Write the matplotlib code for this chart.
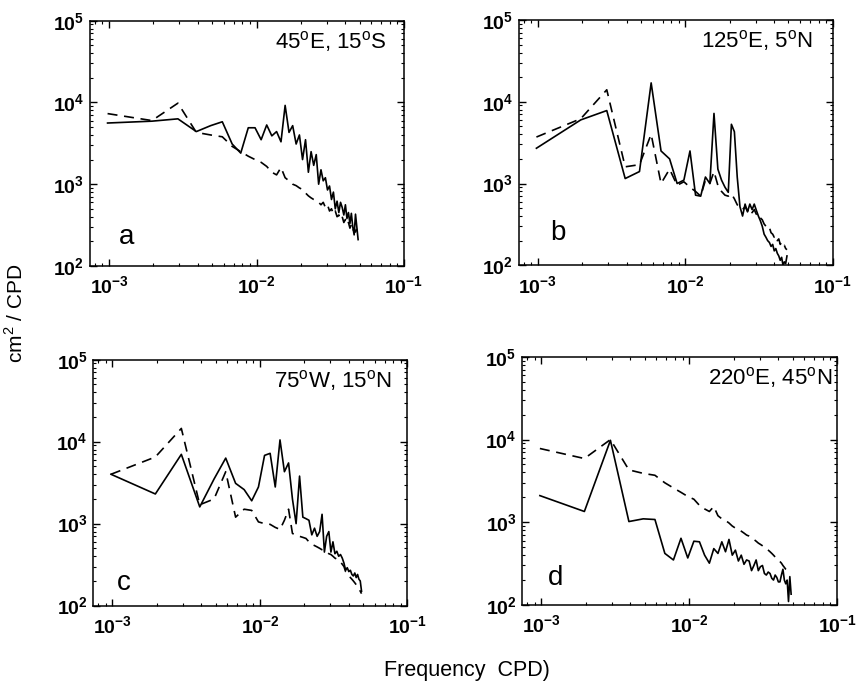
import numpy as np
import matplotlib
matplotlib.use('Agg')
import matplotlib.pyplot as plt
from matplotlib.ticker import FuncFormatter, LogLocator, NullFormatter

plt.rcParams['font.family'] = ['Liberation Sans', 'DejaVu Sans']
plt.rcParams['mathtext.fontset'] = 'custom'
plt.rcParams['mathtext.rm'] = 'Liberation Sans'
plt.rcParams['mathtext.bf'] = 'Liberation Sans:bold'

# frequency grid (cycles per day), harmonics of 1/1024 days
freq = [0.000977, 0.001953, 0.002930, 0.003906, 0.004883, 0.005859, 0.006836,
        0.007813, 0.008789, 0.009766, 0.010742, 0.011719, 0.012695, 0.013672,
        0.014648, 0.015625, 0.016602, 0.017578, 0.018555, 0.019531, 0.020508,
        0.021484, 0.022461, 0.023438, 0.024414, 0.025391, 0.026367, 0.027344,
        0.028320, 0.029297, 0.030273, 0.031250, 0.032227, 0.033203, 0.034180,
        0.035156, 0.036133, 0.037109, 0.038086, 0.039063, 0.040039, 0.041016,
        0.041992, 0.042969, 0.043945, 0.044922, 0.045898, 0.046875, 0.047852,
        0.048828]

# panel a : 45E, 15S
a_solid = [5600, 5900, 6300, 4400, 5200, 5800, 3100, 2400, 4900, 4900,
           3500, 5300, 3900, 4400, 3300, 9200, 4300, 5200, 3100, 4000,
           2000, 3500, 1400, 2500, 1700, 2300, 1000, 1500, 1100, 1200,
           850, 950, 650, 800, 500, 620, 450, 600, 520, 420,
           560, 380, 450, 330, 440, 300, 240, 430, 300, 210]
a_dash = [7300, 6000, 9800, 4300, 4000, 3800, 2900, 2500, 2200, 2000,
          1850, 1650, 1400, 1300, 1600, 1200, 1100, 1000, 960, 900,
          860, 780, 720, 680, 650, 630, 600, 560, 600, 520,
          560, 470, 500, 430, 470, 400, 420, 370, 400, 340,
          370, 320, 340, 290, 320, 270, 290, 260, 280, 240]

# panel b : 125E, 5N
b_solid = [2700, 6000, 7800, 1150, 1400, 17000, 2500, 2000, 1000, 1100,
           2500, 720, 700, 1200, 1000, 7200, 1500, 1100, 900, 780,
           5300, 4300, 1200, 520, 400, 560, 450, 560, 480, 560,
           470, 400, 350, 300, 240, 220, 200, 190, 170, 180,
           150, 160, 140, 130, 115, 125, 100, 110, 105, 130]
b_dash = [3700, 6200, 14000, 1600, 1700, 4000, 1000, 1500, 950, 1050,
          900, 800, 700, 1100, 1000, 1400, 950, 800, 720, 700,
          750, 650, 550, 500, 480, 520, 460, 500, 440, 480,
          420, 430, 380, 360, 320, 300, 280, 290, 250, 240,
          220, 230, 200, 210, 180, 190, 170, 175, 160, 155]

# panel c : 75W, 15N
c_solid = [4000, 2300, 7000, 1600, 3500, 6300, 3100, 2600, 1900, 2800,
           6800, 7200, 2800, 10500, 4300, 5500, 2000, 1000, 3800, 1200,
           1150, 1100, 730, 880, 700, 800, 1300, 450, 700, 800,
           450, 600, 430, 460, 400, 420, 380, 330, 270, 290,
           260, 270, 240, 230, 250, 220, 240, 210, 200, 150]
c_dash = [4000, 6500, 14500, 1700, 2000, 4300, 1200, 1500, 1450, 1050,
          1000, 980, 900, 850, 1100, 1500, 760, 720, 700, 680,
          660, 600, 560, 540, 520, 500, 480, 470, 450, 430,
          420, 400, 380, 370, 360, 340, 320, 300, 260, 250,
          240, 220, 210, 200, 190, 180, 170, 160, 150, 140]

# panel d : 220E, 45N
d_solid = [2100, 1350, 9800, 1020, 1100, 1080, 420, 350, 640, 370,
           590, 580, 400, 320, 480, 420, 580, 440, 620, 400,
           460, 340, 400, 310, 350, 340, 260, 300, 350, 260,
           290, 300, 240, 230, 250, 240, 210, 200, 230, 215,
           190, 190, 230, 270, 200, 180, 200, 110, 220, 135]
d_dash = [7800, 5900, 10000, 4300, 3900, 3700, 3000, 2600, 2300, 2050,
          1900, 1600, 1450, 1350, 1550, 1200, 1100, 1050, 980, 900,
          850, 820, 780, 740, 700, 680, 650, 620, 590, 560,
          540, 520, 500, 480, 460, 440, 420, 400, 380, 365,
          350, 335, 320, 300, 285, 270, 260, 255, 250, 245]

locations = ['45$^\\mathrm{o}$E, 15$^\\mathrm{o}$S',
             '125$^\\mathrm{o}$E, 5$^\\mathrm{o}$N',
             '75$^\\mathrm{o}$W, 15$^\\mathrm{o}$N',
             '220$^\\mathrm{o}$E, 45$^\\mathrm{o}$N']
letters = ['a', 'b', 'c', 'd']

panels = [
    # axes rect, solid, dashed, location x, letter pos
    ([0.105, 0.614, 0.367, 0.356], a_solid, a_dash, 0.943, (0.118, 0.12)),
    ([0.606, 0.615, 0.367, 0.356], b_solid, b_dash, 0.936, (0.124, 0.13)),
    ([0.109, 0.121, 0.367, 0.357], c_solid, c_dash, 0.952, (0.096, 0.094)),
    ([0.610, 0.122, 0.368, 0.360], d_solid, d_dash, 0.984, (0.105, 0.11)),
]


def log_label(v, pos):
    return r'$\mathbf{10^{%d}}$' % int(round(np.log10(v)))


fig = plt.figure(figsize=(8.56, 6.89), dpi=100)

for i, (rect, solid, dash, tx, lpos) in enumerate(panels):
    ax = fig.add_axes(rect)
    ax.loglog(freq, solid, color='black', lw=1.2, ls='-')
    ax.loglog(freq, dash, color='black', lw=1.2, ls=(0, (6, 4)))
    ax.set_xlim(10 ** -3.13, 1e-1)
    ax.set_ylim(1e2, 1e5)
    ax.xaxis.set_major_locator(LogLocator(base=10, numticks=10))
    ax.yaxis.set_major_locator(LogLocator(base=10, numticks=10))
    ax.xaxis.set_major_formatter(FuncFormatter(log_label))
    ax.yaxis.set_major_formatter(FuncFormatter(log_label))
    ax.xaxis.set_minor_formatter(NullFormatter())
    ax.yaxis.set_minor_formatter(NullFormatter())
    ax.tick_params(which='both', direction='in', top=True, right=True,
                   labelsize=14)
    ax.tick_params(which='major', length=5, width=1.0)
    ax.tick_params(which='minor', length=2.5, width=0.8)
    ax.tick_params(axis='x', pad=7)
    ax.tick_params(axis='y', pad=4)
    for sp in ax.spines.values():
        sp.set_linewidth(1.1)
    ax.text(tx, 0.915, locations[i], transform=ax.transAxes,
            ha='right', va='center', fontsize=16)
    ax.text(lpos[0], lpos[1], letters[i], transform=ax.transAxes,
            ha='center', va='center', fontsize=20)

fig.text(0.018, 0.545, 'cm$^2$ / CPD', rotation=90, ha='center', va='center',
         fontsize=15)
fig.text(0.545, 0.027, 'Frequency  CPD)', ha='center', va='center',
         fontsize=15.5)

fig.savefig('out.png', dpi=100)
